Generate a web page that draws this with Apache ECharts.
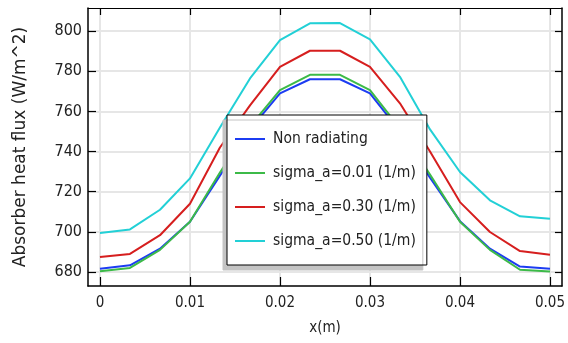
<!DOCTYPE html>
<html><head><meta charset="utf-8">
<script src="https://cdn.jsdelivr.net/npm/echarts@6/dist/echarts.min.js"></script>
<style>html,body{margin:0;padding:0;background:#fff}#c{width:568px;height:343px}</style>
</head><body><div id="c"></div>
<script>
const xValues = [0, 0.00333, 0.00667, 0.01, 0.01333, 0.01667, 0.02, 0.02333, 0.02667, 0.03, 0.03333, 0.03667, 0.04, 0.04333, 0.04667, 0.05];
const nonRadiating = [681.6, 683.3, 691.6, 705, 728, 751, 769, 776, 776, 769, 750, 727, 705.3, 691.6, 682.7, 681.6];
const sigma001 = [680.3, 682, 691, 705, 729.5, 752.5, 770.6, 778.2, 778.2, 770.6, 751.5, 728.5, 705, 691, 681.1, 680.2];
const sigma030 = [687.4, 689, 698.3, 714, 742, 763, 782.2, 790.2, 790.2, 782.2, 764, 740, 714.8, 699.9, 690.4, 688.6];
const sigma050 = [699.4, 701.2, 711, 726.6, 752, 776.4, 795.5, 803.9, 804, 795.9, 777.2, 751, 729.8, 715.7, 707.7, 706.5];
const seriesNames = ['Non radiating', 'sigma_a=0.01 (1/m)', 'sigma_a=0.30 (1/m)', 'sigma_a=0.50 (1/m)'];
const xTicks = [0, 0.01, 0.02, 0.03, 0.04, 0.05];
const yTicks = [680, 700, 720, 740, 760, 780, 800];

const FONT = 'DejaVu Sans Condensed';
const colors = ['#1c3cf2', '#3cba48', '#d61e1e', '#22d0d6'];
const pair = arr => arr.map((v, i) => [xValues[i], v]);
const allSeries = [nonRadiating, sigma001, sigma030, sigma050];

const xMin = -0.00133, xMax = 0.05133, yMin = 673, yMax = 811.5;
const gridLine = {show: true, lineStyle: {color: '#e6e6e6', width: 2}};

const chart = echarts.init(document.getElementById('c'), null, {renderer: 'canvas'});
chart.setOption({
  animation: false,
  backgroundColor: '#fff',
  textStyle: {fontFamily: FONT},
  grid: {left: 88, right: 6, top: 8, bottom: 57},
  xAxis: [{
    type: 'value', min: xMin, max: xMax,
    name: 'x(m)', nameLocation: 'middle', nameGap: 35,
    nameTextStyle: {color: '#222', fontSize: 15, fontFamily: FONT},
    axisLine: {show: true, onZero: false, lineStyle: {color: '#000', width: 1.5}},
    axisTick: {show: true, inside: true, length: 9, customValues: xTicks, lineStyle: {color: '#000', width: 1.2}},
    axisLabel: {customValues: xTicks, color: '#222', fontSize: 15, margin: 10, fontFamily: FONT},
    splitLine: gridLine
  }, {
    type: 'value', min: xMin, max: xMax, position: 'top',
    axisLine: {show: true, onZero: false, lineStyle: {color: '#000', width: 1}},
    axisTick: {show: true, inside: true, length: 7, customValues: xTicks, lineStyle: {color: '#000', width: 1.2}},
    axisLabel: {show: false},
    splitLine: {show: false}
  }],
  yAxis: [{
    type: 'value', min: yMin, max: yMax,
    name: 'Absorber heat flux (W/m^2)', nameLocation: 'middle', nameGap: 59,
    nameTextStyle: {color: '#222', fontSize: 17, fontFamily: 'DejaVu Sans'},
    axisLine: {show: true, onZero: false, lineStyle: {color: '#000', width: 1.5}},
    axisTick: {show: true, inside: true, length: 8, customValues: yTicks, lineStyle: {color: '#000', width: 1.2}},
    axisLabel: {customValues: yTicks, color: '#222', fontSize: 16, margin: 6, fontFamily: FONT},
    splitLine: gridLine
  }, {
    type: 'value', min: yMin, max: yMax, position: 'right',
    axisLine: {show: true, onZero: false, lineStyle: {color: '#000', width: 1.5}},
    axisTick: {show: true, inside: true, length: 7, customValues: yTicks, lineStyle: {color: '#000', width: 1.2}},
    axisLabel: {show: false},
    splitLine: {show: false}
  }],
  legend: {
    orient: 'vertical', left: 227, top: 115,
    padding: [16, 11, 16, 8],
    itemWidth: 30, itemHeight: 14, itemGap: 18,
    icon: 'path://M0,0 L30,0 L30,2 L0,2 Z',
    backgroundColor: '#fff', borderColor: '#000', borderWidth: 1,
    shadowColor: '#c4c4c4', shadowBlur: 0, shadowOffsetX: -4, shadowOffsetY: 5,
    textStyle: {color: '#222', fontSize: 15.5, fontFamily: FONT, padding: [0, 0, 0, 3]},
    data: seriesNames,
    z: 10
  },
  series: allSeries.map((arr, i) => ({
    name: seriesNames[i], type: 'line', data: pair(arr),
    symbol: 'none', showSymbol: false,
    lineStyle: {color: colors[i], width: 2},
    itemStyle: {color: colors[i]},
    z: 2 + i
  }))
});
</script></body></html>
